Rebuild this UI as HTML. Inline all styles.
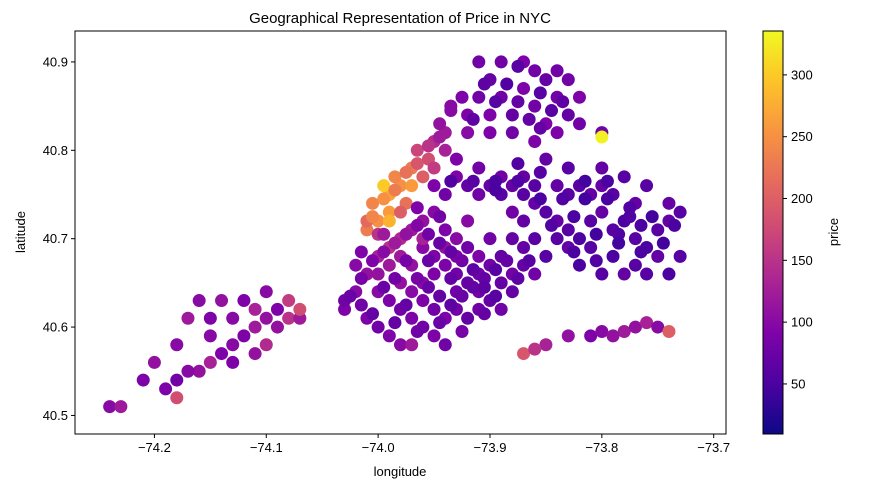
<!DOCTYPE html>
<html><head><meta charset="utf-8"><style>
html,body{margin:0;padding:0;background:#fff;}
svg{display:block;font-family:"Liberation Sans",sans-serif;}
</style></head><body>
<svg id="chart" width="882" height="502" viewBox="0 0 882 502">
<defs>
<linearGradient id="plasma" x1="0" y1="1" x2="0" y2="0">
<stop offset="0" stop-color="#0d0887"/><stop offset="0.125" stop-color="#4c02a1"/><stop offset="0.25" stop-color="#7e03a8"/><stop offset="0.375" stop-color="#a92395"/><stop offset="0.5" stop-color="#cc4778"/><stop offset="0.625" stop-color="#e56b5d"/><stop offset="0.75" stop-color="#f89441"/><stop offset="0.875" stop-color="#fdc328"/><stop offset="1" stop-color="#f0f921"/>
</linearGradient>
<clipPath id="plotclip"><rect x="75" y="31" width="651" height="403"/></clipPath>
</defs>
<text x="400" y="23" text-anchor="middle" font-size="15">Geographical Representation of Price in NYC</text>
<g id="points" clip-path="url(#plotclip)"></g>
<rect x="75" y="31" width="651" height="403" fill="none" stroke="#000" stroke-width="1"/>
<g id="xticks"></g>
<g id="yticks"></g>
<text x="400" y="476" text-anchor="middle" font-size="13">longitude</text>
<text x="25" y="232" text-anchor="middle" font-size="13" transform="rotate(-90 25 232)">latitude</text>
<rect x="763" y="31" width="20" height="403" fill="url(#plasma)" stroke="#000" stroke-width="1"/>
<g id="cticks"></g>
<text x="838" y="232" text-anchor="middle" font-size="13" transform="rotate(-90 838 232)">price</text>
</svg>
<script>
const xTicks=[-74.2,-74.1,-74.0,-73.9,-73.8,-73.7];
const xTickLabels=["\u221274.2","\u221274.1","\u221274.0","\u221273.9","\u221273.8","\u221273.7"];
const yTicks=[40.5,40.6,40.7,40.8,40.9];
const yTickLabels=["40.5","40.6","40.7","40.8","40.9"];
const cTicks=[50,100,150,200,250,300];
const lon=[
-74.01,-74.00,-73.99,-74.005,-73.99,-73.98,-73.975,-73.985,-73.97,-73.96,-73.955,-73.965,-73.95,-73.94,-73.945,-73.935,-73.925,-73.99,-74.01,-73.995,-73.98,-74.00,-73.95,-73.94,-73.97,
-74.03,-74.02,-74.01,-74.0,-73.99,-73.98,-73.97,-73.96,-73.95,-73.94,-73.93,-73.92,-73.91,-73.90,-73.89,-73.88,-73.87,-73.86,-73.98,-73.97,-73.96,-73.95,-73.94,-73.93,-73.92,-73.91,-73.90,-73.89,-73.88,-74.0,-73.99,-73.98,-73.97,-73.96,-73.95,-73.94,-73.98,-73.97,-73.96,-73.95,-73.94,-73.93,-73.92,-73.93,-74.01,-74.0,-73.99,-73.98,-74.03,-73.96,-73.95,-73.96,-73.94,-73.92,-73.90,-73.97,-73.91,-73.89,-73.87,-74.02,-74.0,-73.99,-73.93,-73.91,
-73.95,-73.94,-73.93,-73.92,-73.91,-73.90,-73.89,-73.88,-73.87,-73.86,-73.85,-73.84,-73.83,-73.82,-73.81,-73.80,-73.79,-73.78,-73.77,-73.76,-73.75,-73.74,-73.73,-73.75,-73.77,-73.79,-73.81,-73.83,-73.84,-73.86,-73.88,-73.88,-73.87,-73.86,-73.84,-73.82,-73.80,-73.83,-73.81,-73.79,-73.77,-73.78,-73.80,-73.83,-73.85,-73.87,-73.89,-73.91,-73.93,-73.74,-73.76,-73.76,-73.74,-73.73,-73.78,-73.85,-73.82,-73.80,
-73.92,-73.91,-73.90,-73.89,-73.90,-73.89,-73.88,-73.87,-73.86,-73.85,-73.86,-73.85,-73.84,-73.83,-73.82,-73.84,-73.88,-73.90,-73.92,-73.91,-73.87,-73.84,-73.86,-73.83,-73.82,-73.80,
-74.24,-74.23,-74.19,-74.18,-74.16,-74.15,-74.14,-74.13,-74.12,-74.11,-74.10,-74.09,-74.08,-74.10,-74.12,-74.14,-74.16,-74.17,-74.15,-74.13,-74.11,-74.09,-74.08,-74.07,-74.07,-74.15,-74.13,-74.11,-74.17,-74.21,-74.20,-74.18,-74.10,
-73.85,-73.83,-73.81,-73.80,-73.78,-73.77,-73.76,-73.75,-73.74,-73.79,-73.87,-73.86,
-73.80,-74.18,
-74.025,-74.015,-74.005,-73.995,-73.985,-73.975,-73.965,-73.955,-73.945,-73.935,-73.925,-73.915,-73.905,-73.895,-73.885,-73.875,-73.865,
-74.015,-74.005,-73.995,-73.985,-73.975,-73.965,-73.955,-73.945,-73.935,-73.925,-73.915,-73.905,-73.895,
-74.015,-73.985,-73.965,-73.945,-73.925,-73.905,-73.975,-73.955,-73.935,-73.995,-73.965,-73.945,
-73.935,-73.915,-73.895,-73.875,-73.855,-73.835,-73.815,-73.795,-73.775,-73.755,-73.735,-73.845,-73.825,-73.805,-73.785,-73.765,-73.745,-73.825,-73.805,-73.785,-73.765,-73.855,-73.875,-73.895,-73.815,-73.795,-73.775,
-73.915,-73.895,-73.875,-73.855,-73.835,-73.885,-73.865,-73.845,-73.905,-73.875,-73.855,
-74.005,-73.995,-73.985,-73.975,-73.965,-73.955,-73.945,-73.935
];
const lat=[
40.71,40.72,40.73,40.74,40.75,40.76,40.74,40.77,40.78,40.77,40.79,40.80,40.81,40.82,40.83,40.85,40.86,40.72,40.72,40.76,40.73,40.705,40.78,40.80,40.76,
40.62,40.64,40.66,40.68,40.69,40.70,40.71,40.72,40.73,40.71,40.70,40.69,40.68,40.67,40.68,40.66,40.67,40.66,40.68,40.67,40.69,40.68,40.67,40.66,40.65,40.64,40.63,40.62,40.64,40.64,40.63,40.62,40.61,40.60,40.59,40.58,40.65,40.64,40.63,40.62,40.61,40.62,40.61,40.64,40.61,40.60,40.59,40.58,40.63,40.65,40.66,40.70,40.69,40.72,40.70,40.58,40.62,40.65,40.69,40.67,40.66,40.67,40.68,40.66,
40.76,40.75,40.77,40.76,40.75,40.76,40.75,40.76,40.75,40.74,40.73,40.72,40.71,40.70,40.72,40.73,40.71,40.72,40.70,40.69,40.71,40.72,40.73,40.68,40.67,40.68,40.69,40.69,40.70,40.70,40.70,40.73,40.72,40.76,40.76,40.76,40.76,40.75,40.75,40.75,40.74,40.77,40.78,40.78,40.79,40.77,40.77,40.78,40.79,40.74,40.76,40.66,40.66,40.68,40.66,40.68,40.67,40.66,
40.84,40.86,40.88,40.90,40.84,40.86,40.84,40.87,40.89,40.88,40.85,40.83,40.86,40.84,40.83,40.82,40.82,40.82,40.82,40.90,40.90,40.89,40.81,40.88,40.86,40.82,
40.51,40.51,40.53,40.54,40.55,40.56,40.57,40.58,40.59,40.60,40.61,40.62,40.63,40.64,40.63,40.63,40.63,40.61,40.61,40.61,40.62,40.60,40.61,40.61,40.62,40.59,40.56,40.57,40.55,40.54,40.56,40.58,40.58,
40.58,40.59,40.59,40.595,40.595,40.60,40.605,40.60,40.595,40.59,40.57,40.575,
40.815,40.52,
40.635,40.655,40.675,40.685,40.695,40.705,40.715,40.705,40.695,40.685,40.675,40.665,40.655,40.665,40.675,40.655,40.675,
40.625,40.615,40.645,40.655,40.625,40.655,40.645,40.635,40.625,40.635,40.645,40.645,40.635,
40.685,40.605,40.595,40.605,40.595,40.615,40.675,40.675,40.655,40.705,40.735,40.725,
40.765,40.765,40.765,40.765,40.745,40.745,40.745,40.745,40.735,40.725,40.715,40.715,40.725,40.705,40.705,40.715,40.695,40.685,40.675,40.695,40.685,40.775,40.785,40.755,40.765,40.765,40.725,
40.835,40.855,40.855,40.865,40.855,40.875,40.835,40.845,40.875,40.895,40.825,
40.725,40.745,40.755,40.775,40.785,40.805,40.815,40.845
];
const price=[
230,250,260,240,270,250,220,240,230,200,180,170,140,120,110,100,90,280,210,300,200,150,160,130,260,
90,100,110,130,150,140,120,110,100,90,100,80,90,80,70,80,70,80,120,110,100,90,90,80,70,80,70,80,70,100,90,80,90,80,90,80,110,100,90,80,90,80,70,80,90,80,90,100,80,100,90,130,110,100,80,120,80,70,70,100,110,120,90,80,
90,80,90,70,80,70,60,70,60,70,60,70,60,50,60,70,60,50,60,50,60,70,60,70,60,50,60,70,60,60,70,80,70,60,70,60,70,60,70,60,70,60,70,60,70,70,80,80,90,70,60,60,50,60,70,60,50,60,
90,80,70,80,90,80,70,90,80,70,80,90,80,70,80,90,80,90,100,80,90,80,90,80,90,80,
100,120,90,80,110,130,90,100,90,120,110,90,160,100,90,110,100,120,90,100,130,110,150,120,180,100,90,110,100,90,110,100,140,
130,110,90,100,120,110,130,100,200,110,190,150,
330,180,
75,85,90,100,120,110,95,80,75,70,80,65,70,60,70,65,60,
80,70,75,80,70,85,75,70,65,75,70,65,60,
90,70,80,75,85,70,85,75,70,120,90,80,
55,60,50,55,50,55,45,50,55,45,50,55,50,45,55,50,45,50,55,45,50,60,55,50,45,50,55,
65,60,70,60,65,55,70,60,65,60,70,
240,250,230,220,190,150,120,100
];
const svgNS="http://www.w3.org/2000/svg";
const X0=75,X1=726,Y0=31,Y1=434;
const xMin=-74.271,xMax=-73.689,yMin=40.479,yMax=40.935;
const cMin=9.5,cMax=335.5;
function sx(v){return X0+(v-xMin)/(xMax-xMin)*(X1-X0);}
function sy(v){return Y1-(v-yMin)/(yMax-yMin)*(Y1-Y0);}
function sc(v){return Y1-(v-cMin)/(cMax-cMin)*(Y1-Y0);}
const stops=[[13,8,135],[76,2,161],[126,3,168],[169,35,149],[204,71,120],[229,107,93],[248,148,65],[253,195,40],[240,249,33]];
function plasma(v){let t=Math.max(0,Math.min(1,(v-cMin)/(cMax-cMin)))*(stops.length-1);const i=Math.min(stops.length-2,Math.floor(t));const f=t-i;const a=stops[i],b=stops[i+1];return "rgb("+a.map((c,k)=>Math.round(c+(b[k]-c)*f)).join(",")+")";}
const pg=document.getElementById("points");
const n=Math.min(lon.length,lat.length,price.length);
for(let i=0;i<n;i++){
const c=document.createElementNS(svgNS,"circle");
c.setAttribute("cx",sx(lon[i]));c.setAttribute("cy",sy(lat[i]));c.setAttribute("r",6.5);
c.setAttribute("fill",plasma(price[i]));


pg.appendChild(c);
}
const xg=document.getElementById("xticks");
xTicks.forEach((v,i)=>{
const x=sx(v);
const l=document.createElementNS(svgNS,"line");
l.setAttribute("x1",x);l.setAttribute("x2",x);l.setAttribute("y1",Y1);l.setAttribute("y2",Y1+4);l.setAttribute("stroke","#000");


xg.appendChild(l);
const t=document.createElementNS(svgNS,"text");
t.setAttribute("x",x);t.setAttribute("y",Y1+18);t.setAttribute("text-anchor","middle");t.setAttribute("font-size","13");
t.textContent=xTickLabels[i];


xg.appendChild(t);
});
const yg=document.getElementById("yticks");
yTicks.forEach((v,i)=>{
const y=sy(v);
const l=document.createElementNS(svgNS,"line");
l.setAttribute("x1",X0-4);l.setAttribute("x2",X0);l.setAttribute("y1",y);l.setAttribute("y2",y);l.setAttribute("stroke","#000");


yg.appendChild(l);
const t=document.createElementNS(svgNS,"text");
t.setAttribute("x",X0-7);t.setAttribute("y",y+4.5);t.setAttribute("text-anchor","end");t.setAttribute("font-size","13");
t.textContent=yTickLabels[i];


yg.appendChild(t);
});
const cg=document.getElementById("cticks");
cTicks.forEach(v=>{
const y=sc(v);
const l=document.createElementNS(svgNS,"line");
l.setAttribute("x1",783);l.setAttribute("x2",787);l.setAttribute("y1",y);l.setAttribute("y2",y);l.setAttribute("stroke","#000");


cg.appendChild(l);
const t=document.createElementNS(svgNS,"text");
t.setAttribute("x",791);t.setAttribute("y",y+4.5);t.setAttribute("font-size","13");
t.textContent=String(v);


cg.appendChild(t);
});
</script>
</body></html>
